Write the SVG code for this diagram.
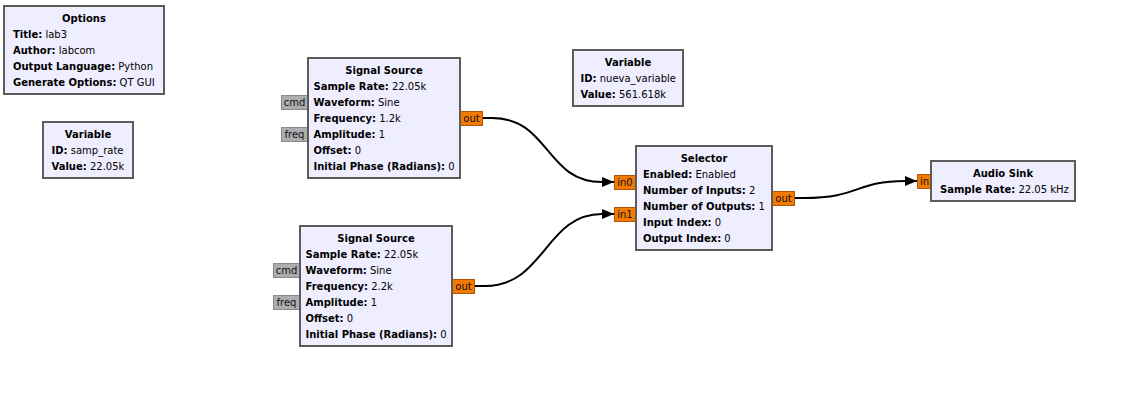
<svg xmlns="http://www.w3.org/2000/svg" width="1127" height="401" viewBox="0 0 1127 401">
<defs>
<style>
.blk{fill:#EFEEFF;stroke:#5C5C5C;stroke-width:2}
.t{font-family:"DejaVu Sans",sans-serif;font-size:10px;fill:#000}
.ti{font-weight:bold;text-anchor:middle}
.k{font-weight:bold}
.port{fill:#F37A00;stroke:#B0560A;stroke-width:1}
.msg{fill:#ADADAD;stroke:#8A8A8A;stroke-width:1}
.pl{font-family:"DejaVu Sans",sans-serif;font-size:10px;text-anchor:middle}
.wire{fill:none;stroke:#000;stroke-width:2}
</style>
<marker id="arr" markerWidth="12" markerHeight="10" refX="12" refY="5" orient="auto" markerUnits="userSpaceOnUse">
<path d="M0,0 L12,5 L0,10 Z" fill="#000"/>
</marker>
</defs>
<rect width="1127" height="401" fill="#fff"/>

<g id="connectors">
<path class="wire" d="M482,118 L492,118 C550,118 545,182 602,182 L614,182" marker-end="url(#arr)"/>
<path class="wire" d="M475,286 L485,286 C545,286 545,214 602,214 L614,214" marker-end="url(#arr)"/>
<path class="wire" d="M794,198 L804,198 C860,198 855,181 905,181 L917,181" marker-end="url(#arr)"/>
</g>

<g id="options">
<rect class="blk" x="4" y="6" width="160" height="88"/>
<text class="t ti" x="84" y="22">Options</text>
<text class="t" x="13" y="38"><tspan class="k">Title:</tspan> lab3</text>
<text class="t" x="13" y="54"><tspan class="k">Author:</tspan> labcom</text>
<text class="t" x="13" y="70"><tspan class="k">Output Language:</tspan> Python</text>
<text class="t" x="13" y="86"><tspan class="k">Generate Options:</tspan> QT GUI</text>
</g>

<g id="var_samp_rate">
<rect class="blk" x="43" y="122" width="90" height="56"/>
<text class="t ti" x="88" y="138">Variable</text>
<text class="t" x="51.5" y="154"><tspan class="k">ID:</tspan> samp_rate</text>
<text class="t" x="51.5" y="170"><tspan class="k">Value:</tspan> 22.05k</text>
</g>

<g id="var_nueva">
<rect class="blk" x="573" y="50" width="110" height="56"/>
<text class="t ti" x="628" y="66">Variable</text>
<text class="t" x="580.5" y="82"><tspan class="k">ID:</tspan> nueva_variable</text>
<text class="t" x="580.5" y="98"><tspan class="k">Value:</tspan> 561.618k</text>
</g>

<g id="sig_source_0">
<rect class="msg" x="281.5" y="95.5" width="26" height="14"/>
<text class="pl" fill="#111122" x="294.5" y="106">cmd</text>
<rect class="msg" x="281.5" y="127.5" width="26" height="14"/>
<text class="pl" fill="#111122" x="294.5" y="138">freq</text>
<rect class="port" x="460.5" y="111.5" width="22" height="14"/>
<text class="pl" fill="#111122" x="471.5" y="122">out</text>
<rect class="blk" x="308" y="58" width="152" height="120"/>
<text class="t ti" x="384" y="74">Signal Source</text>
<text class="t" x="313.5" y="90"><tspan class="k">Sample Rate:</tspan> 22.05k</text>
<text class="t" x="313.5" y="106"><tspan class="k">Waveform:</tspan> Sine</text>
<text class="t" x="313.5" y="122"><tspan class="k">Frequency:</tspan> 1.2k</text>
<text class="t" x="313.5" y="138"><tspan class="k">Amplitude:</tspan> 1</text>
<text class="t" x="313.5" y="154"><tspan class="k">Offset:</tspan> 0</text>
<text class="t" x="313.5" y="170"><tspan class="k">Initial Phase (Radians):</tspan> 0</text>
</g>

<g id="sig_source_1">
<rect class="msg" x="273.5" y="263.5" width="26" height="14"/>
<text class="pl" fill="#111122" x="286.5" y="274">cmd</text>
<rect class="msg" x="273.5" y="295.5" width="26" height="14"/>
<text class="pl" fill="#111122" x="286.5" y="306">freq</text>
<rect class="port" x="452.5" y="279.5" width="22" height="14"/>
<text class="pl" fill="#111122" x="463.5" y="290">out</text>
<rect class="blk" x="300" y="226" width="152" height="120"/>
<text class="t ti" x="376" y="242">Signal Source</text>
<text class="t" x="305.5" y="258"><tspan class="k">Sample Rate:</tspan> 22.05k</text>
<text class="t" x="305.5" y="274"><tspan class="k">Waveform:</tspan> Sine</text>
<text class="t" x="305.5" y="290"><tspan class="k">Frequency:</tspan> 2.2k</text>
<text class="t" x="305.5" y="306"><tspan class="k">Amplitude:</tspan> 1</text>
<text class="t" x="305.5" y="322"><tspan class="k">Offset:</tspan> 0</text>
<text class="t" x="305.5" y="338"><tspan class="k">Initial Phase (Radians):</tspan> 0</text>
</g>

<g id="selector">
<rect class="port" x="614.5" y="175.5" width="21" height="14"/>
<text class="pl" fill="#111122" x="625" y="186">in0</text>
<rect class="port" x="614.5" y="207.5" width="21" height="14"/>
<text class="pl" fill="#111122" x="625" y="218">in1</text>
<rect class="port" x="772.5" y="191.5" width="22" height="14"/>
<text class="pl" fill="#111122" x="783.5" y="202">out</text>
<rect class="blk" x="636" y="146" width="136" height="104"/>
<text class="t ti" x="704" y="162">Selector</text>
<text class="t" x="643" y="178"><tspan class="k">Enabled:</tspan> Enabled</text>
<text class="t" x="643" y="194"><tspan class="k">Number of Inputs:</tspan> 2</text>
<text class="t" x="643" y="210"><tspan class="k">Number of Outputs:</tspan> 1</text>
<text class="t" x="643" y="226"><tspan class="k">Input Index:</tspan> 0</text>
<text class="t" x="643" y="242"><tspan class="k">Output Index:</tspan> 0</text>
</g>

<g id="audio_sink">
<rect class="port" x="917.5" y="174.5" width="14" height="14"/>
<text class="pl" fill="#111122" x="924.5" y="185">in</text>
<rect class="blk" x="931" y="161" width="144" height="40"/>
<text class="t ti" x="1003" y="177">Audio Sink</text>
<text class="t" x="940" y="193"><tspan class="k">Sample Rate:</tspan> 22.05 kHz</text>
</g>
</svg>
